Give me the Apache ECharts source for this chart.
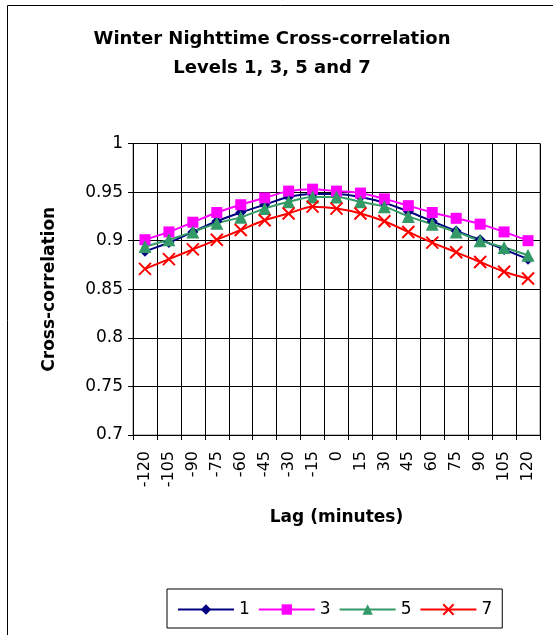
<!DOCTYPE html>
<html><head><meta charset="utf-8">
<script src="https://cdn.jsdelivr.net/npm/echarts@6/dist/echarts.min.js"></script>
<style>html,body{margin:0;padding:0;background:#fff}#c{width:553px;height:635px}</style>
</head><body><div id="c"></div>
<script>
var lags = ['-120','-105','-90','-75','-60','-45','-30','-15','0','15','30','45','60','75','90','105','120'];
var level1 = [0.889,0.898,0.909,0.920,0.929,0.937,0.945,0.948,0.948,0.945,0.939,0.930,0.920,0.910,0.901,0.891,0.881];
var level3 = [0.901,0.909,0.919,0.929,0.937,0.944,0.951,0.953,0.951,0.949,0.943,0.936,0.929,0.923,0.917,0.909,0.900];
var level5 = [0.894,0.901,0.909,0.918,0.924,0.933,0.940,0.945,0.945,0.940,0.935,0.925,0.917,0.909,0.900,0.893,0.885];
var level7 = [0.871,0.881,0.891,0.901,0.911,0.921,0.928,0.935,0.933,0.928,0.920,0.909,0.898,0.888,0.878,0.868,0.861];
var yTicks = [0.7,0.75,0.8,0.85,0.9,0.95,1];

var FONT = '"DejaVu Sans", sans-serif';
var chart = echarts.init(document.getElementById('c'), null, {renderer:'canvas'});
function mk(name, data, color, symbol, size, extra){
  var s = {name:name, type:'line', data:data, smooth:0.3, symbol:symbol, symbolSize:size,
    lineStyle:{color:color, width:2}, itemStyle:{color:color}, emphasis:{disabled:true}, z:2};
  if (extra) Object.assign(s, extra);
  return s;
}
var xPath = 'path://M0,0L10,10M10,0L0,10';
chart.setOption({
  animation:false,
  backgroundColor:'#fff',
  graphic:[{type:'rect', shape:{x:7.5,y:5.5,width:700,height:700}, style:{fill:'none', stroke:'#000', lineWidth:1}, z:-1}],
  title:{text:'Winter Nighttime Cross-correlation\nLevels 1, 3, 5 and 7', left:267, top:20, textAlign:'center',
    textStyle:{fontFamily:FONT, fontSize:18, fontWeight:'bold', color:'#000', lineHeight:29}},
  grid:{left:133, top:143.5, right:13, bottom:200, show:true, borderColor:'#808080', borderWidth:1},
  legend:{left:167, top:589, width:331, height:43, padding:[12,10,10,10], itemGap:8, itemWidth:56, itemHeight:13,
    borderColor:'#000', borderWidth:1,
    textStyle:{fontFamily:FONT, fontSize:17, color:'#000'}, data:['1','3','5','7']},
  xAxis:{type:'category', data:lags, boundaryGap:true,
    axisLine:{lineStyle:{color:'#000'}}, axisTick:{show:true, length:5, lineStyle:{color:'#000'}},
    splitLine:{show:true, lineStyle:{color:'#000', width:1}},
    axisLabel:{rotate:90, margin:16, interval:0, fontFamily:FONT, fontSize:16, color:'#000'},
    name:'Lag (minutes)', nameLocation:'middle', nameGap:74,
    nameTextStyle:{fontFamily:FONT, fontSize:17, fontWeight:'bold', color:'#000'}},
  yAxis:{type:'value', min:0.7, max:1, interval:0.05,
    axisLine:{show:true, lineStyle:{color:'#000'}}, axisTick:{show:true, length:5, lineStyle:{color:'#000'}},
    splitLine:{show:true, lineStyle:{color:'#000', width:1}},
    axisLabel:{margin:10, fontFamily:FONT, fontSize:17, color:'#000',
      formatter:function(v){ return String(parseFloat(v.toFixed(2))); }},
    name:'Cross-correlation', nameLocation:'middle', nameGap:75,
    nameTextStyle:{fontFamily:FONT, fontSize:17, fontWeight:'bold', color:'#000'}},
  series:[
    mk('1', level1, '#000080', 'diamond', 11),
    mk('3', level3, '#FF00FF', 'rect', 11),
    mk('5', level5, '#339966', 'triangle', 13),
    mk('7', level7, '#FF0000', xPath, 12, {itemStyle:{color:'#FF0000', borderColor:'#FF0000', borderWidth:2}})
  ]
});
</script></body></html>
